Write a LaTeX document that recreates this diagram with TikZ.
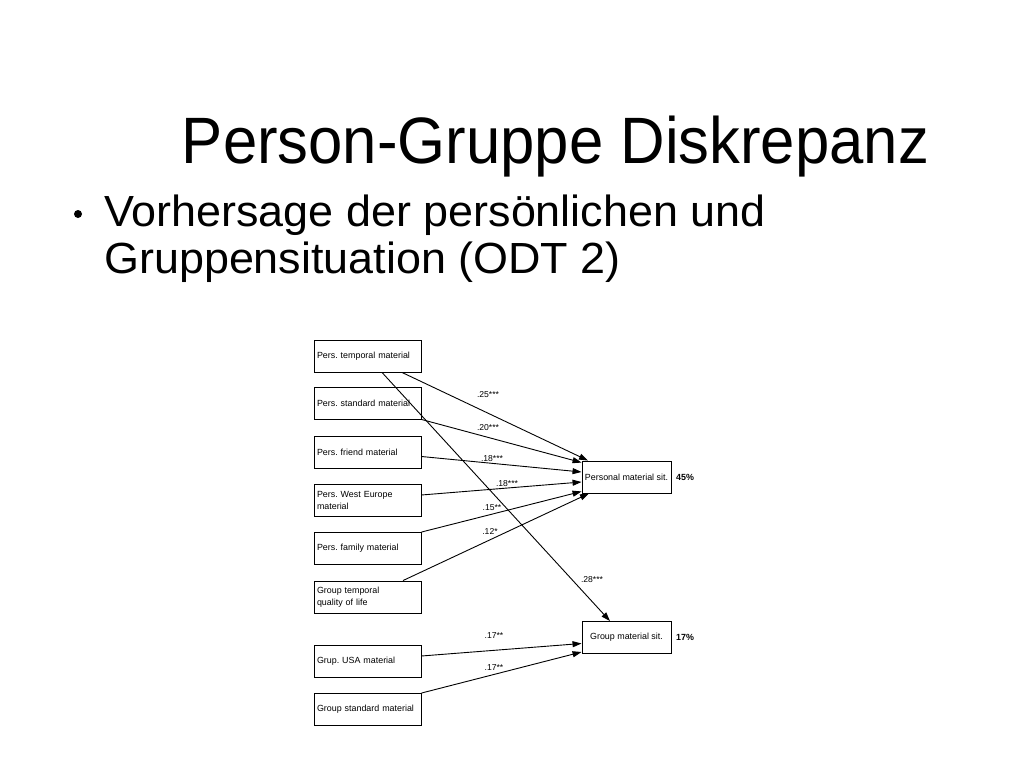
\documentclass[tikz,border=0pt]{standalone}
\usepackage{fontspec}
\setmainfont{Liberation Sans}
\newfontfamily\titlefont[FakeStretch=0.94]{Liberation Sans}
\newfontfamily\bulletfont[FakeStretch=1.03]{Liberation Sans}
\usetikzlibrary{arrows.meta,calc}
\frenchspacing
\tikzset{
  src/.style={draw,line width=0.9bp,minimum width=107bp,minimum height=32bp,text width=101bp,inner xsep=3bp,inner ysep=0bp,align=left,font=\fontsize{8.9bp}{12bp}\selectfont},
  tgt/.style={draw,line width=0.9bp,minimum width=89bp,minimum height=32bp,inner sep=0bp,align=center,font=\fontsize{8.9bp}{12bp}\selectfont},
  coef/.style={font=\fontsize{8.6bp}{10bp}\selectfont,inner sep=0bp},
  rsq/.style={font=\bfseries\fontsize{8.9bp}{10bp}\selectfont,inner sep=0bp},
  path/.style={line width=0.9bp,-{Triangle[length=9bp,width=6bp]}},
}
\begin{document}
\begin{tikzpicture}[x=1bp,y=-1bp]
\useasboundingbox[fill=white] (0,0) rectangle (1024,768);
% title and bullet
\node[anchor=base,inner sep=0pt,font=\titlefont\fontsize{65.6bp}{70bp}\selectfont] (title) at (555.5,163) {Person-Gruppe Diskrepanz};
\node[circle,fill=black,inner sep=0pt,minimum size=8bp] (dot) at (78,214) {};
\node[anchor=base west,inner sep=0pt,font=\bulletfont\fontsize{43.6bp}{47bp}\selectfont] (l1) at (104,226) {Vorhersage der persönlichen und};
\node[anchor=base west,inner sep=0pt,font=\bulletfont\fontsize{43.6bp}{47bp}\selectfont] (l2) at (104,273) {Gruppensituation (ODT 2)};
% source boxes
\node[src] (p1) at (367.5,356) {Pers. temporal material};
\node[src] (p2) at (367.5,403) {Pers. standard material};
\node[src] (p3) at (367.5,452.5) {Pers. friend material};
\node[src] (p4) at (367.5,500) {Pers. West Europe\\material};
\node[src] (p5) at (367.5,548.5) {Pers. family material};
\node[src] (g0) at (367.5,597) {Group temporal\\quality of life};
\node[src] (g1) at (367.5,661.5) {Grup. USA material};
\node[src] (g2) at (367.5,709.5) {Group standard material};
% targets
\node[tgt] (pm) at (626.5,477) {Personal material sit.};
\node[tgt] (gm) at (626.5,637.5) {Group material sit.};
\node[rsq,anchor=west] (r1) at (676,477) {45\%};
\node[rsq,anchor=west] (r2) at (676,637.5) {17\%};
% paths
\draw[path] ([xshift=34.5bp]p1.south) -- ([xshift=-38.5bp]pm.north);
\draw[path] (p2.south east) -- ([yshift=-2bp]pm.north west);
\draw[path] ([yshift=-4bp]p3.east) -- ([yshift=5bp]pm.west);
\draw[path] ([yshift=5bp]p4.east) -- ([yshift=-5bp]pm.west);
\draw[path] (p5.north east) -- ([yshift=2bp]pm.south west);
\draw[path] ([xshift=35.5bp]g0.north) -- ([xshift=-37.5bp]pm.south);
\draw[path] ([xshift=14.5bp]p1.south) -- ([xshift=-16.5bp]gm.north);
\draw[path] ([yshift=5.5bp]g1.east) -- ([yshift=-6bp]gm.west);
\draw[path] (g2.north east) -- ([yshift=-14.5bp]gm.west);
% coefficients
\node[coef] (c1) at (488,395) {.25***};
\node[coef] (c2) at (488,428) {.20***};
\node[coef] (c3) at (492,459) {.18***};
\node[coef] (c4) at (507,484) {.18***};
\node[coef] (c5) at (492,508) {.15**};
\node[coef] (c6) at (490,531) {.12*};
\node[coef] (c7) at (592,580) {.28***};
\node[coef] (c8) at (494,636) {.17**};
\node[coef] (c9) at (494,668) {.17**};
\end{tikzpicture}
\end{document}
